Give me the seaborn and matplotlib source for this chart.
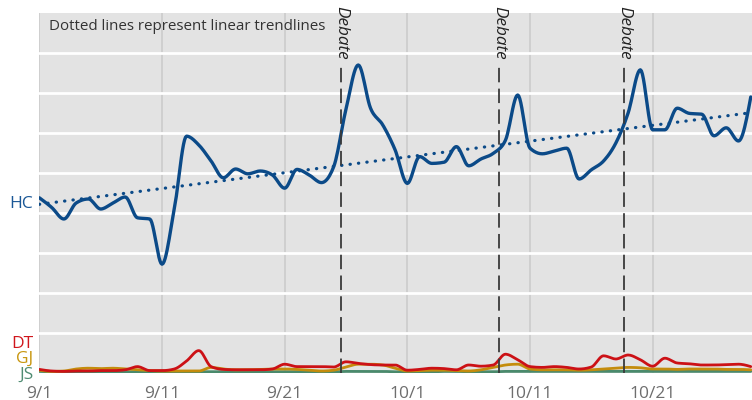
import numpy as np
import pandas as pd
import matplotlib
matplotlib.use("Agg")
import matplotlib.pyplot as plt
import matplotlib.transforms as mtransforms
import seaborn as sns

# ---------------- data (days since 9/1) ----------------
days = list(range(59))
HC = [4.38, 4.14, 3.85, 4.25, 4.35, 4.10, 4.25, 4.40, 3.88, 3.85,
      2.72, 4.10, 5.92, 5.70, 5.30, 4.88, 5.10, 4.98, 5.05, 4.95,
      4.62, 5.09, 4.95, 4.76, 5.16, 6.60, 7.70, 6.62, 6.20, 5.58,
      4.74, 5.41, 5.24, 5.27, 5.66, 5.18, 5.35, 5.49, 5.82, 6.95,
      5.62, 5.48, 5.55, 5.62, 4.85, 5.08, 5.30, 5.75, 6.50, 7.58,
      6.08, 6.08, 6.62, 6.49, 6.47, 5.93, 6.13, 5.80, 6.90]
DT = [0.09, 0.05, 0.04, 0.05, 0.05, 0.06, 0.06, 0.08, 0.16, 0.06,
      0.06, 0.10, 0.30, 0.56, 0.16, 0.09, 0.08, 0.08, 0.08, 0.10,
      0.22, 0.16, 0.16, 0.16, 0.15, 0.28, 0.24, 0.21, 0.20, 0.20,
      0.07, 0.09, 0.12, 0.11, 0.08, 0.20, 0.17, 0.20, 0.47, 0.33,
      0.16, 0.14, 0.16, 0.14, 0.10, 0.15, 0.43, 0.35, 0.45, 0.33,
      0.17, 0.37, 0.25, 0.23, 0.20, 0.20, 0.21, 0.22, 0.16]
GJ = [0.07, 0.04, 0.05, 0.10, 0.12, 0.11, 0.12, 0.10, 0.08, 0.06,
      0.05, 0.05, 0.05, 0.05, 0.14, 0.10, 0.08, 0.08, 0.09, 0.10,
      0.10, 0.09, 0.07, 0.05, 0.07, 0.15, 0.22, 0.22, 0.20, 0.12,
      0.05, 0.06, 0.07, 0.07, 0.06, 0.05, 0.08, 0.14, 0.20, 0.22,
      0.10, 0.08, 0.08, 0.08, 0.07, 0.08, 0.10, 0.12, 0.14, 0.13,
      0.10, 0.10, 0.09, 0.10, 0.10, 0.10, 0.09, 0.09, 0.08]
JS = [0.04, 0.03, 0.03, 0.03, 0.03, 0.03, 0.03, 0.03, 0.03, 0.03,
      0.03, 0.03, 0.03, 0.03, 0.03, 0.03, 0.03, 0.03, 0.03, 0.03,
      0.03, 0.03, 0.03, 0.03, 0.03, 0.04, 0.04, 0.04, 0.04, 0.03,
      0.03, 0.03, 0.03, 0.04, 0.04, 0.03, 0.03, 0.03, 0.04, 0.04,
      0.04, 0.04, 0.04, 0.04, 0.04, 0.04, 0.04, 0.04, 0.04, 0.04,
      0.04, 0.04, 0.04, 0.04, 0.04, 0.04, 0.04, 0.04, 0.04]
debates = [24.6, 37.5, 47.7]
tick_days = [0, 10, 20, 30, 40, 50]
tick_labels = ["9/1", "9/11", "9/21", "10/1", "10/11", "10/21"]
series_names = ["JS", "GJ", "DT", "HC"]
colors = {"HC": "#0b4a88", "DT": "#cc1116", "GJ": "#c48c0c", "JS": "#4a8a6c"}
label_colors = {"HC": "#1a5796", "DT": "#d0161c", "GJ": "#c8960e", "JS": "#4f8c72"}


def monotone(x, y, n=12):
    """Monotone cubic (Steffen) rendering of a line through the points."""
    x = np.asarray(x, float)
    y = np.asarray(y, float)
    h = np.diff(x)
    s = np.diff(y) / h
    m = np.zeros_like(y)
    for i in range(1, len(y) - 1):
        p = (s[i - 1] * h[i] + s[i] * h[i - 1]) / (h[i - 1] + h[i])
        m[i] = (np.sign(s[i - 1]) + np.sign(s[i])) * min(abs(s[i - 1]), abs(s[i]), 0.5 * abs(p))
    m[0] = (3 * s[0] - m[1]) / 2
    m[-1] = (3 * s[-1] - m[-2]) / 2
    xs, ys = [], []
    for i in range(len(y) - 1):
        t = np.linspace(0, 1, n, endpoint=False)
        h00 = 2 * t**3 - 3 * t**2 + 1
        h10 = t**3 - 2 * t**2 + t
        h01 = -2 * t**3 + 3 * t**2
        h11 = t**3 - t**2
        xs.append(x[i] + t * h[i])
        ys.append(h00 * y[i] + h10 * h[i] * m[i] + h01 * y[i + 1] + h11 * h[i] * m[i + 1])
    xs.append([x[-1]])
    ys.append([y[-1]])
    return np.concatenate(xs), np.concatenate(ys)


frames = []
for name, vals in zip(series_names, [JS, GJ, DT, HC]):
    sx, sy = monotone(days, vals)
    frames.append(pd.DataFrame({"day": sx, "value": sy, "cand": name}))
df = pd.concat(frames, ignore_index=True)

sns.set_theme(style="white")
plt.rcParams["font.family"] = ["Open Sans", "DejaVu Sans"]

fig = plt.figure(figsize=(7.52, 4.0), dpi=100)
ax = fig.add_axes([39 / 752, 27 / 400, 1 - 39 / 752, 360 / 400])
ax.set_facecolor("#e3e3e3")

sns.lineplot(data=df, x="day", y="value", hue="cand", hue_order=series_names,
             palette=colors, estimator=None, sort=False, legend=False, ax=ax,
             linewidth=2.3)
for line, name in zip(ax.lines, series_names):
    line.set_linewidth(2.4 if name == "HC" else 2.0)
    line.set_solid_capstyle("round")

# linear trendline
sns.regplot(x=np.array(days, float), y=np.array(HC), scatter=False, ci=None, ax=ax,
            truncate=True,
            line_kws=dict(color=colors["HC"], lw=2.3, linestyle=(0, (0.1, 2.55)),
                          dash_capstyle="round"))
slope, intercept = np.polyfit(days, HC, 1)

ax.set_xlabel("")
ax.set_ylabel("")
ax.set_xlim(-0.03, 58.1)
ax.set_ylim(0, 9)
ax.set_yticks(range(1, 9))
ax.set_yticklabels([])
ax.set_xticks(tick_days)
ax.set_xticklabels(tick_labels)
ax.tick_params(axis="both", length=0)
ax.tick_params(axis="x", pad=9.5, labelsize=12.5, labelcolor="#6e6e6e")
ax.yaxis.grid(True, color="white", lw=2.0)
ax.xaxis.grid(True, color="#cdcdcd", lw=1.3)
ax.set_axisbelow(True)
for sp in ax.spines.values():
    sp.set_visible(False)

# debate markers
trans = mtransforms.blended_transform_factory(ax.transData, ax.transAxes)
for d in debates:
    ax.axvline(d, ymin=0, ymax=0.85, color="#3a3a3a", lw=1.3, dashes=(8, 3.5))
    ax.text(d, 1.02, "Debate", transform=trans, rotation=270, ha="center", va="top",
            fontsize=12.3, style="italic", color="#222222", clip_on=False)

ax.text(0.0145, 0.962, "Dotted lines represent linear trendlines", transform=ax.transAxes,
        ha="left", va="center", fontsize=10.9, color="#333333")

# series labels
ytrans = mtransforms.blended_transform_factory(ax.transAxes, ax.transData)
ax.text(-0.008, intercept, "HC", transform=ytrans,
        ha="right", va="center", fontsize=12.5, color=label_colors["HC"], clip_on=False)
for name, yv in [("DT", 0.725), ("GJ", 0.35), ("JS", -0.05)]:
    ax.text(-0.008, yv, name, transform=ytrans,
            ha="right", va="center", fontsize=12.5, color=label_colors[name], clip_on=False)

fig.savefig("out.png", dpi=100)
